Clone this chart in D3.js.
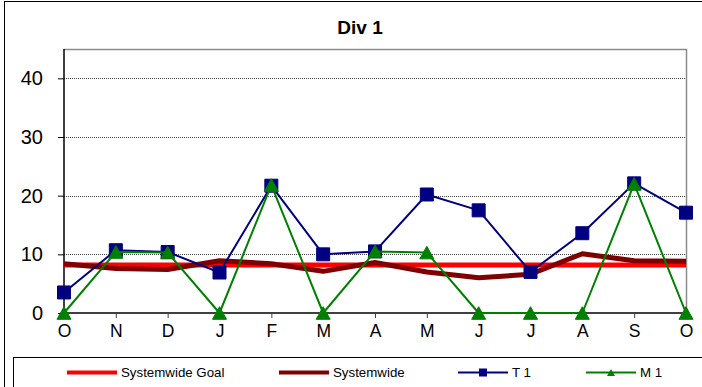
<!DOCTYPE html>
<html>
<head>
<meta charset="utf-8">
<script src="https://cdn.jsdelivr.net/npm/d3@7"></script>
<style>
  body { margin: 0; background: #fff; }
  svg { display: block; font-family: "Liberation Sans", Arial, sans-serif; }
</style>
</head>
<body>
<svg id="chart" width="702" height="387"></svg>
<script>
// month labels along the x axis
var months = ["O", "N", "D", "J", "F", "M", "A", "M", "J", "J", "A", "S", "O"];
var yTicks = [0, 10, 20, 30, 40];

var goal = [8.2, 8.2, 8.2, 8.2, 8.2, 8.2, 8.2, 8.2, 8.2, 8.2, 8.2, 8.2, 8.2];
var systemwide = [8.4, 7.6, 7.4, 8.9, 8.4, 7.1, 8.6, 7.0, 6.0, 6.6, 10.1, 8.9, 8.8];
var t1 = [3.5, 10.7, 10.4, 6.9, 21.7, 10.0, 10.5, 20.2, 17.5, 7.0, 13.6, 22.1, 17.1];
var m1 = [0, 10.4, 10.3, 0, 21.8, 0, 10.5, 10.3, 0, 0, 0, 22.0, 0];

var series = [
    { name: "Systemwide Goal", values: goal, color: "#ff0000", width: 5, marker: null },
    { name: "Systemwide", values: systemwide, color: "#800000", width: 5, marker: null },
    { name: "T 1", values: t1, color: "#000080", width: 2, marker: "square" },
    { name: "M 1", values: m1, color: "#008000", width: 2, marker: "triangle" }
];

var svg = d3.select("#chart");
var plot = { left: 64, top: 49, right: 686, bottom: 313 };

// outer chart frame
svg.append("rect")
    .attr("x", 4.5).attr("y", 1.5)
    .attr("width", 720).attr("height", 420)
    .attr("fill", "#fff").attr("stroke", "#000").attr("stroke-width", 1);

svg.append("text")
    .attr("x", 360).attr("y", 34)
    .attr("text-anchor", "middle")
    .attr("font-size", 19).attr("font-weight", "bold")
    .text("Div 1");

var idx = months.map(function (d, i) { return i; });
var x = d3.scalePoint().domain(idx).range([plot.left, plot.right]).padding(0);
var y = d3.scaleLinear().domain([0, 45]).range([plot.bottom, plot.top]);

// gridlines
svg.append("g").selectAll("line")
    .data(yTicks.filter(function (d) { return d > 0; }))
    .enter().append("line")
    .attr("x1", plot.left).attr("x2", plot.right)
    .attr("y1", function (d) { return Math.round(y(d)) + 0.5; })
    .attr("y2", function (d) { return Math.round(y(d)) + 0.5; })
    .attr("stroke", "#444").attr("stroke-width", 1)
    .attr("stroke-dasharray", "1,1");

// plot frame top and right
svg.append("path")
    .attr("d", "M" + plot.left + "," + (plot.top + 0.5) + "H" + (plot.right + 0.5) + "V" + plot.bottom)
    .attr("fill", "none").attr("stroke", "#8c8c8c").attr("stroke-width", 1.5);

// y axis
var yAxis = svg.append("g")
    .attr("transform", "translate(" + plot.left + ",0)")
    .call(d3.axisLeft(y).tickValues(yTicks).tickSize(6).tickPadding(15));
yAxis.select(".domain").attr("stroke", "#000").attr("stroke-width", 1.5)
    .attr("d", "M0," + plot.top + "V" + plot.bottom);
yAxis.selectAll(".tick line").attr("stroke", "#000");
yAxis.selectAll("text").attr("font-size", 20).attr("fill", "#000")
    .attr("font-family", "Liberation Sans, Arial, sans-serif");

// x axis
var xAxis = svg.append("g")
    .attr("transform", "translate(0," + plot.bottom + ")")
    .call(d3.axisBottom(x).tickSize(5).tickPadding(7).tickFormat(function (i) { return months[i]; }));
xAxis.select(".domain").attr("stroke", "#404040").attr("stroke-width", 2)
    .attr("d", "M" + plot.left + ",0H" + plot.right);
xAxis.selectAll(".tick line").attr("stroke", "#404040");
xAxis.selectAll("text").attr("font-size", 17.5).attr("fill", "#000")
    .attr("font-family", "Liberation Sans, Arial, sans-serif");

var line = d3.line()
    .x(function (d, i) { return x(i); })
    .y(function (d) { return y(d); });

// marker shapes centred on the point
function markerPath(type, s) {
    if (type === "square") {
        return "M" + (-s / 2) + "," + (-s / 2) + "h" + s + "v" + s + "h" + (-s) + "Z";
    }
    var h = s * 0.9;
    return "M0," + (-h / 2) + "L" + (s / 2) + "," + (h / 2) + "L" + (-s / 2) + "," + (h / 2) + "Z";
}

series.forEach(function (s) {
    var g = svg.append("g");
    g.append("path")
        .attr("d", line(s.values))
        .attr("fill", "none")
        .attr("stroke", s.color)
        .attr("stroke-width", s.width)
        .attr("stroke-linejoin", "round");
    if (s.marker) {
        g.selectAll(".pt")
            .data(s.values)
            .enter().append("path")
            .attr("class", "pt")
            .attr("transform", function (d, i) { return "translate(" + x(i) + "," + y(d) + ")"; })
            .attr("d", markerPath(s.marker, s.marker === "square" ? 13 : 14))
            .attr("fill", s.color)
            .attr("stroke", s.color).attr("stroke-width", 1);
    }
});

// legend
svg.append("rect")
    .attr("x", 13.5).attr("y", 357.5)
    .attr("width", 720).attr("height", 60)
    .attr("fill", "#fff").attr("stroke", "#000").attr("stroke-width", 1);

var legendX = [67, 279, 458, 586];
var ly = 372.5;
var leg = svg.append("g").selectAll("g")
    .data(series)
    .enter().append("g")
    .attr("transform", function (d, i) { return "translate(" + legendX[i] + "," + ly + ")"; });

leg.append("line")
    .attr("x1", 0).attr("x2", 50)
    .attr("stroke", function (d) { return d.color; })
    .attr("stroke-width", function (d) { return d.width === 5 ? 4 : 2; });

leg.filter(function (d) { return d.marker; })
    .append("path")
    .attr("transform", "translate(25,0)")
    .attr("d", function (d) { return markerPath(d.marker, d.marker === "square" ? 8 : 8); })
    .attr("fill", function (d) { return d.color; });

leg.append("text")
    .attr("x", 54).attr("y", 4.5)
    .attr("font-size", 13.3)
    .text(function (d) { return d.name; });
</script>
</body>
</html>
